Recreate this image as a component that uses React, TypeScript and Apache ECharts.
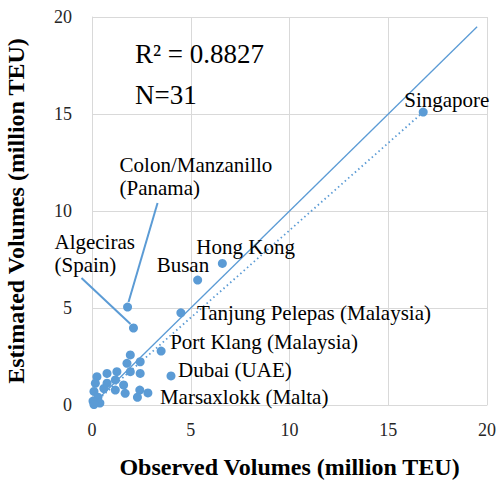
import React, { useEffect, useRef } from "react";
import * as echarts from "echarts";

// Named ports: observed (x) and estimated (y) volumes, million TEU
const portNames = [
  "Singapore",
  "Hong Kong",
  "Busan",
  "Colon/Manzanillo\n(Panama)",
  "Algeciras\n(Spain)",
  "Tanjung Pelepas (Malaysia)",
  "Port Klang (Malaysia)",
  "Dubai (UAE)",
  "Marsaxlokk (Malta)",
];
const portObserved = [16.77, 6.6, 5.35, 1.8, 2.1, 4.5, 3.5, 4.0, 2.83];
const portEstimated = [15.1, 7.3, 6.44, 5.05, 3.97, 4.75, 2.78, 1.5, 0.62];

// Other (unlabelled) ports
const otherObserved = [
  1.94, 1.77, 2.44, 1.94, 2.44, 1.26, 0.76, 0.25, 1.18, 0.17, 0.76, 1.6, 1.18, 1.68,
  2.42, 2.3, 0.6, 0.1, 0.3, 0.05, 0.4, 0.1,
];
const otherEstimated = [
  2.58, 2.15, 2.23, 1.72, 1.63, 1.72, 1.63, 1.46, 1.29, 1.12, 1.12, 1.03, 0.77, 0.6,
  0.77, 0.4, 0.85, 0.7, 0.4, 0.2, 0.1, 0.02,
];

// 1:1 reference line and linear trend line
const oneToOneLine = [
  [0, 0],
  [19.5, 19.5],
];
const trendLine = [
  [0, 0],
  [16.77, 15.1],
];

const xTicks = [0, 5, 10, 15, 20];
const yTicks = [0, 5, 10, 15, 20];

const statsText = ["R\u00B2 = 0.8827", "N=31"];

// label placement: pixel offset of label's left/middle from the point centre (styling only)
const labelOffsets: Record<string, number[]> = {
  Singapore: [-19, -12],
  "Hong Kong": [-26, -16],
  Busan: [-41, -15],
  "Colon/Manzanillo\n(Panama)": [-8, -131],
  "Algeciras\n(Spain)": [-79, -74],
  "Tanjung Pelepas (Malaysia)": [16, 0],
  "Port Klang (Malaysia)": [9, -9],
  "Dubai (UAE)": [7, -6],
  "Marsaxlokk (Malta)": [12, 4],
};
// leader lines: [fromDx, fromDy, toDx, toDy] relative to point pixel
const leaders: Record<string, number[]> = {
  "Colon/Manzanillo\n(Panama)": [30, -104, 1, -5],
  "Algeciras\n(Spain)": [-52, -50, -3, -4],
};

const BLUE = "#5B9BD5";
const SERIF = "Liberation Serif";

export default function App() {
  const ref = useRef<HTMLDivElement>(null);
  useEffect(() => {
    if (!ref.current) return;
    const chart = echarts.init(ref.current, null, { renderer: "svg" });
    const named = portNames.map((n, i) => ({
      name: n,
      value: [portObserved[i], portEstimated[i]],
    }));
    const others = otherObserved.map((x, i) => [x, otherEstimated[i]]);
    chart.setOption({
      animation: false,
      backgroundColor: "#fff",
      grid: {
        left: 92,
        right: 9,
        top: 17,
        bottom: 76,
        containLabel: false,
        outerBoundsMode: "none",
      },
      xAxis: {
        type: "value",
        min: xTicks[0],
        max: xTicks[xTicks.length - 1],
        interval: 5,
        name: "Observed Volumes (million TEU)",
        nameLocation: "middle",
        nameGap: 50,
        nameTextStyle: { fontFamily: SERIF, fontSize: 24, fontWeight: "bold", color: "#000" },
        axisLine: { show: true, lineStyle: { color: "#d9d9d9" } },
        axisTick: { show: false },
        axisLabel: { fontFamily: SERIF, fontSize: 18, color: "#262626", margin: 16 },
        splitLine: { show: true, lineStyle: { color: "#d9d9d9" } },
      },
      yAxis: {
        type: "value",
        min: yTicks[0],
        max: yTicks[yTicks.length - 1],
        interval: 5,
        name: "Estimated Volumes (million TEU)",
        nameLocation: "middle",
        nameGap: 64,
        nameTextStyle: { fontFamily: SERIF, fontSize: 24, fontWeight: "bold", color: "#000" },
        axisLine: { show: true, lineStyle: { color: "#d9d9d9" } },
        axisTick: { show: false },
        axisLabel: { fontFamily: SERIF, fontSize: 18, color: "#262626", margin: 20 },
        splitLine: { show: true, lineStyle: { color: "#d9d9d9" } },
      },
      series: [
        {
          type: "line",
          data: oneToOneLine,
          showSymbol: false,
          symbol: "none",
          lineStyle: { color: BLUE, width: 1.3, type: "solid" },
          silent: true,
          z: 1,
        },
        {
          type: "line",
          data: trendLine,
          showSymbol: false,
          symbol: "none",
          lineStyle: { color: BLUE, width: 1.8, type: [1.5, 3] },
          silent: true,
          z: 1,
        },
        {
          type: "scatter",
          data: others,
          symbolSize: 9,
          itemStyle: { color: BLUE, opacity: 1 },
          z: 2,
        },
        {
          type: "scatter",
          data: named,
          symbolSize: 9,
          itemStyle: { color: BLUE, opacity: 1 },
          label: {
            show: true,
            formatter: "{b}",
            fontFamily: SERIF,
            fontSize: 21,
            lineHeight: 23,
            color: "#000",
          },
          labelLayout: (params: any) => {
            const n = portNames[params.dataIndex];
            const off = labelOffsets[n] || [0, 0];
            const cx = params.rect.x + params.rect.width / 2;
            const cy = params.rect.y + params.rect.height / 2;
            return {
              x: cx + off[0],
              y: cy + off[1],
              align: "left",
              verticalAlign: "middle",
              hideOverlap: false,
            };
          },
          z: 3,
        },
      ],
    });
    const graphics: any[] = [];
    portNames.forEach((n, i) => {
      const l = leaders[n];
      if (!l) return;
      const p = chart.convertToPixel({ gridIndex: 0 }, [portObserved[i], portEstimated[i]]) as number[];
      graphics.push({
        type: "line",
        shape: { x1: p[0] + l[0], y1: p[1] + l[1], x2: p[0] + l[2], y2: p[1] + l[3] },
        style: { stroke: BLUE, lineWidth: 2 },
        z: 10,
      });
    });
    graphics.push({
      type: "text",
      left: 135,
      top: 40,
      style: { text: statsText[0], fontFamily: SERIF, fontSize: 27, fill: "#000" },
      z: 10,
    });
    graphics.push({
      type: "text",
      left: 135,
      top: 81,
      style: { text: statsText[1], fontFamily: SERIF, fontSize: 27, fill: "#000" },
      z: 10,
    });
    chart.setOption({ graphic: graphics });
    return () => chart.dispose();
  }, []);
  return (
    <div
      ref={ref}
      style={{ position: "fixed", left: 0, top: 0, width: 496, height: 481, background: "#fff" }}
    />
  );
}
